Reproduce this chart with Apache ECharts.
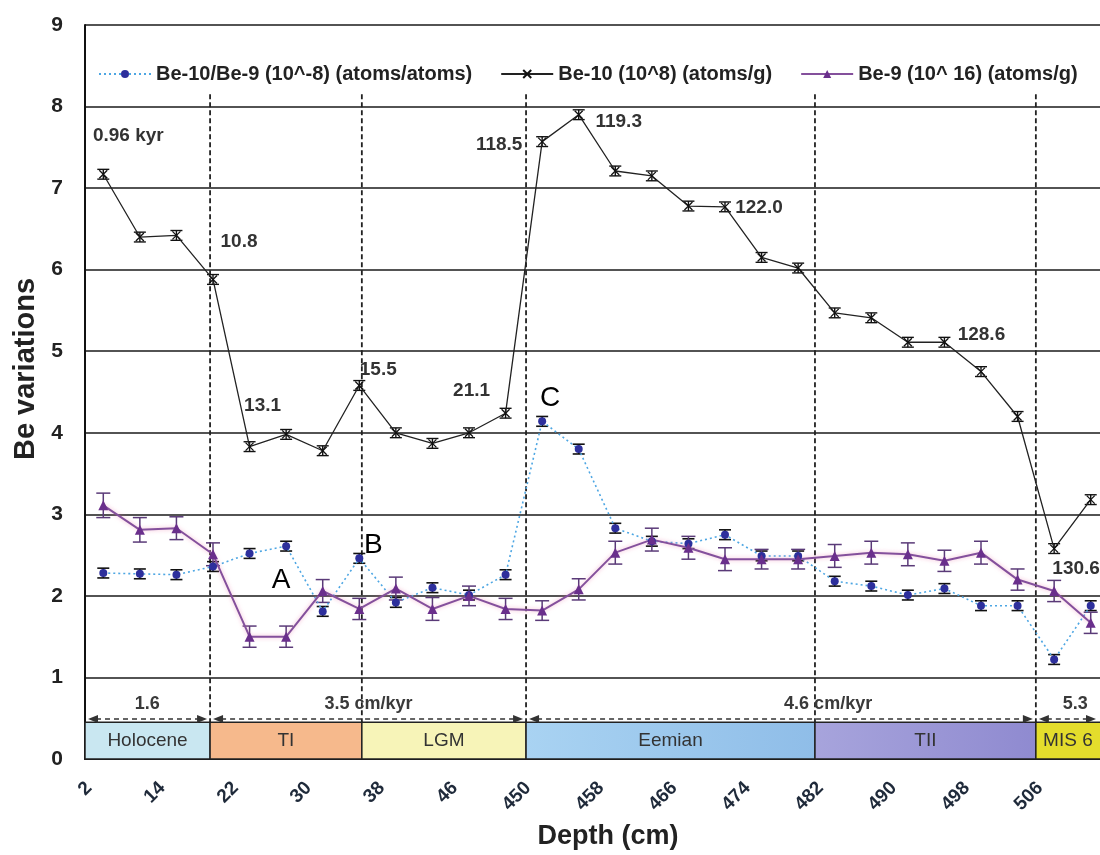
<!DOCTYPE html>
<html>
<head>
<meta charset="utf-8">
<script src="https://cdn.jsdelivr.net/npm/echarts@6/dist/echarts.min.js"></script>
<style>
html,body{margin:0;padding:0;background:#fff;overflow:hidden;width:1100px;height:855px;}
#chart{width:1120px;height:855px;}
</style>
</head>
<body>
<div id="chart"></div>
<script>
// ---- data ----
const depths = ['2','8','14','18','22','26','30','34','38','42','46','448','450','454','458','462','466','470','474','478','482','486','490','494','498','502','506','510'];
const ratio = [2.28,2.27,2.26,2.36,2.52,2.61,1.81,2.46,1.92,2.10,2.01,2.26,4.14,3.80,2.83,2.67,2.64,2.75,2.49,2.49,2.18,2.12,2.01,2.09,1.88,1.88,1.22,1.88];
const ratioErr = [0.06,0.06,0.06,0.06,0.06,0.06,0.06,0.06,0.06,0.06,0.06,0.06,0.06,0.06,0.06,0.06,0.06,0.06,0.06,0.06,0.06,0.06,0.06,0.06,0.06,0.06,0.06,0.06];
const be10 = [7.17,6.40,6.42,5.88,3.83,3.98,3.78,4.58,4.00,3.87,4.00,4.24,7.57,7.90,7.21,7.15,6.78,6.77,6.15,6.02,5.47,5.41,5.11,5.11,4.75,4.20,2.58,3.18];
const be10Err = [0.06,0.06,0.06,0.06,0.06,0.06,0.06,0.06,0.06,0.06,0.06,0.06,0.06,0.06,0.06,0.06,0.06,0.06,0.06,0.06,0.06,0.06,0.06,0.06,0.06,0.06,0.06,0.06];
const be9 = [3.11,2.81,2.83,2.51,1.50,1.50,2.06,1.84,2.09,1.84,2.00,1.84,1.82,2.08,2.53,2.69,2.59,2.45,2.45,2.45,2.49,2.53,2.51,2.43,2.53,2.20,2.06,1.67];
const be9Err = [0.15,0.15,0.14,0.14,0.13,0.13,0.14,0.13,0.14,0.14,0.12,0.13,0.12,0.13,0.14,0.14,0.14,0.14,0.12,0.12,0.14,0.14,0.14,0.13,0.14,0.13,0.13,0.13];
const seriesNames = ['Be-10/Be-9 (10^-8) (atoms/atoms)', 'Be-10 (10^8) (atoms/g)', 'Be-9 (10^ 16) (atoms/g)'];
// annotations on Be-10 points (age, kyr)
const ageLabels = ['0.96 kyr','10.8','13.1','15.5','21.1','118.5','119.3','122.0','128.6','130.6'];
const ageIdx = [0,3,4,7,11,12,13,17,23,26];
// letters on ratio points
const letterLabels = ['A','B','C'];
const letterIdx = [5,7,12];
// stages (in category-index units)
const stageNames = ['Holocene','TI','LGM','Eemian','TII','MIS 6'];
const stageStart = [-0.5, 2.92, 7.07, 11.56, 19.46, 25.5];
const stageEnd = [2.92, 7.07, 11.56, 19.46, 25.5, 27.5];
const boundaries = [2.92, 7.07, 11.56, 19.46, 25.5];
// sedimentation rates
const rateLabels = ['1.6','3.5 cm/kyr','4.6 cm/kyr','5.3'];
const rateStart = [-0.5, 2.92, 11.56, 25.5];
const rateEnd = [2.92, 11.56, 25.5, 27.5];
const yTicks = [0,1,2,3,4,5,6,7,8,9];

// ---- styles (not data) ----
const FONT = "'Liberation Sans', Arial, sans-serif";
const VIEW_RIGHT = 1100;
const stageColors = [
  '#c9e7f1', '#f6b98c', '#f7f4b8',
  {type:'linear',x:0,y:0,x2:1,y2:0,colorStops:[{offset:0,color:'#a9d3f2'},{offset:1,color:'#8fbde8'}]},
  {type:'linear',x:0,y:0,x2:1,y2:0,colorStops:[{offset:0,color:'#a7a4dc'},{offset:1,color:'#8f8ad0'}]},
  '#e4dd2c'
];
const ageOffsets = [[25,-38],[26,-38],[13,-41],[19,-16],[-34,-22],[-43,3],[40,7],[34,1],[37,-7],[22,20]];
const letterOffsets = [[-5,34],[14,-13],[8,-23]];
const rateCenters = [1.2, 7.25, 19.82, 26.58];

const chart = echarts.init(document.getElementById('chart'), null, {renderer:'canvas'});

function errRender(vals, errs, capHalf, color, width) {
  return function(params, api) {
    const i = params.dataIndex;
    const x = api.coord([i, vals[i]])[0];
    const t = api.coord([i, vals[i] + errs[i]])[1];
    const b = api.coord([i, vals[i] - errs[i]])[1];
    const st = {stroke: color, lineWidth: width};
    return {type:'group', children:[
      {type:'line', shape:{x1:x,y1:t,x2:x,y2:b}, style:st},
      {type:'line', shape:{x1:x-capHalf,y1:t,x2:x+capHalf,y2:t}, style:st},
      {type:'line', shape:{x1:x-capHalf,y1:b,x2:x+capHalf,y2:b}, style:st}
    ]};
  };
}

const idxData = (vals) => vals.map((v,i) => [i, v]);

const option = {
  backgroundColor: '#fff',
  animation: false,
  textStyle: {fontFamily: FONT},
  grid: {left: 85, width: 1024, top: 25, height: 737, containLabel: false},
  legend: {
    data: seriesNames,
    left: 93, top: 59,
    itemWidth: 52, itemHeight: 10, itemGap: 28,
    textStyle: {fontFamily: FONT, fontSize: 20, fontWeight: 'bold', color: '#222'}
  },
  xAxis: [{
    type: 'category',
    data: depths,
    boundaryGap: true,
    name: 'Depth (cm)',
    nameLocation: 'middle',
    nameGap: 64,
    nameTextStyle: {fontFamily: FONT, fontSize: 27, fontWeight: 'bold', color: '#222', padding:[0,0,0,22]},
    axisLine: {show: true, onZero: false, lineStyle: {color: '#111', width: 2}},
    axisTick: {show: false},
    axisLabel: {interval: 1, rotate: 45, fontFamily: FONT, fontSize: 19, fontWeight: 'bold', color: '#1f2a3a',
      margin: 12, padding: [0, 20, 0, 0]},
    splitLine: {show: false}
  }, {
    type: 'value', min: -0.5, max: 27.5, show: false
  }],
  yAxis: {
    type: 'value', min: 0, max: 9, interval: 1,
    name: 'Be variations',
    nameLocation: 'middle',
    nameGap: 42,
    nameTextStyle: {fontFamily: FONT, fontSize: 29, fontWeight: 'bold', color: '#222', padding:[0,0,0,46]},
    axisLine: {show: true, onZero: false, lineStyle: {color: '#111', width: 2}},
    axisTick: {show: false},
    axisLabel: {fontFamily: FONT, fontSize: 21, fontWeight: 'bold', color: '#222', margin: 22,
      formatter: (v) => yTicks.indexOf(v) >= 0 ? String(v) : ''},
    splitLine: {show: true, lineStyle: {color: '#1a1a1a', width: 1.5}}
  },
  series: [
    // stage boxes
    {
      type: 'custom', xAxisIndex: 1, z: 1, silent: true, clip: false,
      data: stageNames.map((n,k) => [stageStart[k], stageEnd[k]]),
      renderItem: function(params, api) {
        const k = params.dataIndex;
        const p0 = api.coord([api.value(0), 0.45]);
        const p1 = api.coord([api.value(1), 0]);
        return {type:'group', children:[
          {type:'rect', shape:{x:p0[0], y:p0[1], width:p1[0]-p0[0], height:p1[1]-p0[1]},
           style:{fill: stageColors[k], stroke:'#222', lineWidth:1.5}},
          {type:'text', style:{text: stageNames[k], x:(p0[0]+Math.min(p1[0],VIEW_RIGHT))/2, y:(p0[1]+p1[1])/2,
            align:'center', verticalAlign:'middle', font:"19px " + FONT, fill:'#333'}}
        ]};
      }
    },
    // vertical dashed boundaries
    {
      type: 'custom', xAxisIndex: 1, z: 2, silent: true,
      data: boundaries.map(b => [b]),
      renderItem: function(params, api) {
        const top = api.coord([api.value(0), 8.15]);
        const bot = api.coord([api.value(0), 0.45]);
        return {type:'line', shape:{x1:top[0],y1:top[1],x2:bot[0],y2:bot[1]},
          style:{stroke:'#222', lineWidth:1.8, lineDash:[5,3]}};
      }
    },
    // rate arrows and labels
    {
      type: 'custom', xAxisIndex: 1, z: 3, silent: true, clip: false,
      data: rateLabels.map((t,k) => [rateStart[k], rateEnd[k]]),
      renderItem: function(params, api) {
        const k = params.dataIndex;
        const a = api.coord([api.value(0), 0.49]);
        const b = api.coord([api.value(1), 0.49]);
        const x0 = a[0] + 3, x1 = Math.min(b[0], VIEW_RIGHT - 1) - 3, y = a[1];
        const c = api.coord([rateCenters[k], 0.67]);
        return {type:'group', children:[
          {type:'line', shape:{x1:x0+8,y1:y,x2:x1-8,y2:y}, style:{stroke:'#333', lineWidth:1.6, lineDash:[5,4]}},
          {type:'polygon', shape:{points:[[x0,y],[x0+10,y-4],[x0+10,y+4]]}, style:{fill:'#333'}},
          {type:'polygon', shape:{points:[[x1,y],[x1-10,y-4],[x1-10,y+4]]}, style:{fill:'#333'}},
          {type:'text', style:{text: rateLabels[k], x:c[0], y:c[1], align:'center', verticalAlign:'middle',
            font:"bold 18px " + FONT, fill:'#3a3a3a'}}
        ]};
      }
    },
    // Be-10/Be-9 ratio
    {
      name: seriesNames[0], type: 'line', data: ratio, z: 5,
      symbol: 'circle', symbolSize: 8,
      itemStyle: {color: '#2d2f9c'},
      lineStyle: {color: '#4da6e3', width: 1.6, type: [2, 3]}
    },
    {
      type: 'custom', z: 4, silent: true, data: idxData(ratio),
      renderItem: errRender(ratio, ratioErr, 6, '#111', 1.6)
    },
    // Be-10
    {
      name: seriesNames[1], type: 'line', data: be10, z: 6,
      symbol: 'path://M0,0L10,10M10,0L0,10', symbolSize: 8,
      itemStyle: {color: '#111', borderColor: '#111', borderWidth: 1.3},
      lineStyle: {color: '#222', width: 1.3}
    },
    {
      type: 'custom', z: 6, silent: true, data: idxData(be10),
      renderItem: errRender(be10, be10Err, 6, '#111', 1.4)
    },
    // Be-9
    {
      name: seriesNames[2], type: 'line', data: be9, z: 5,
      symbol: 'triangle', symbolSize: 10,
      itemStyle: {color: '#6a2f8c'},
      lineStyle: {color: '#84509c', width: 2, shadowColor: 'rgba(235,120,170,0.55)', shadowBlur: 4}
    },
    {
      type: 'custom', z: 4, silent: true, data: idxData(be9),
      renderItem: errRender(be9, be9Err, 7, '#5a3a78', 1.5)
    },
    // age annotations
    {
      type: 'custom', z: 8, silent: true, data: ageIdx.map(i => [i, be10[i]]),
      renderItem: function(params, api) {
        const k = params.dataIndex;
        const p = api.coord([api.value(0), api.value(1)]);
        return {type:'text', style:{text: ageLabels[k], x:p[0]+ageOffsets[k][0], y:p[1]+ageOffsets[k][1],
          align:'center', verticalAlign:'middle', font:"bold 19px " + FONT, fill:'#333'}};
      }
    },
    // letters
    {
      type: 'custom', z: 8, silent: true, data: letterIdx.map(i => [i, ratio[i]]),
      renderItem: function(params, api) {
        const k = params.dataIndex;
        const p = api.coord([api.value(0), api.value(1)]);
        return {type:'text', style:{text: letterLabels[k], x:p[0]+letterOffsets[k][0], y:p[1]+letterOffsets[k][1],
          align:'center', verticalAlign:'middle', font:"28px " + FONT, fill:'#000'}};
      }
    }
  ]
};
chart.setOption(option);
</script>
</body>
</html>
